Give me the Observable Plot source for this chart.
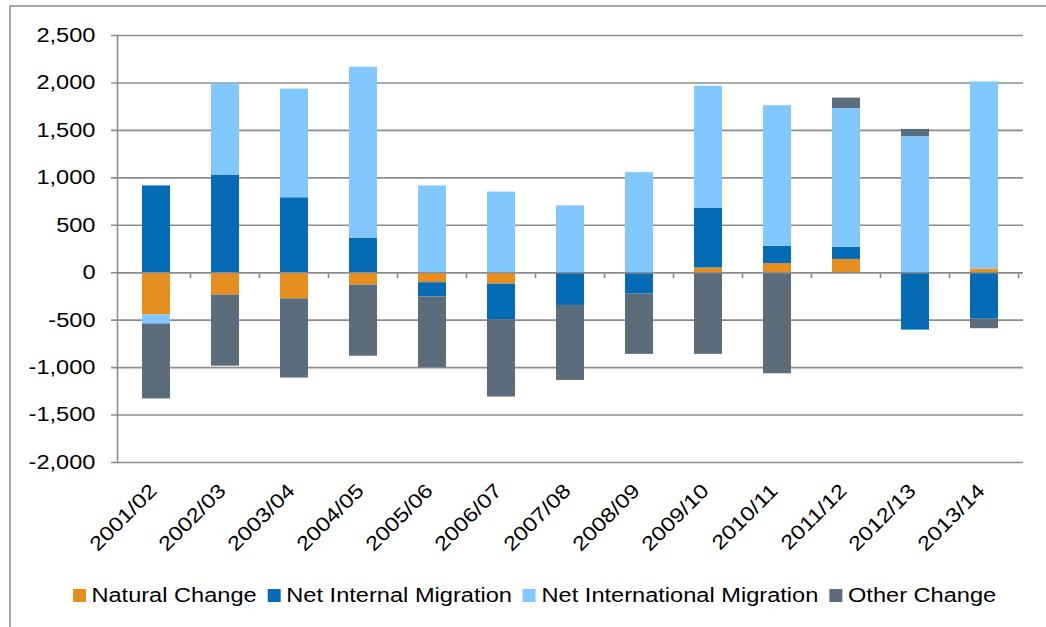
<!DOCTYPE html>
<html>
<head>
<meta charset="utf-8">
<script src="https://cdn.jsdelivr.net/npm/d3@7"></script>
<script src="https://cdn.jsdelivr.net/npm/@observablehq/plot@0.6"></script>
<style>
  html, body { margin: 0; padding: 0; background: #fff; overflow: hidden; width: 1046px; height: 627px; }
  body { position: relative; font-family: "Liberation Sans", Arial, sans-serif; }
  #frame { position: absolute; left: 9px; top: 5px; width: 1100px; height: 700px; border: 2px solid #a8a8a8; box-sizing: border-box; }
  #chart { position: absolute; left: 0; top: 0; }
  #legend { position: absolute; left: 73px; top: 584px; display: flex; align-items: center; font-size: 20px; line-height: 23px; color: #000; white-space: nowrap; transform: scaleX(1.18); transform-origin: 0 0; }
  #legend .item { display: flex; align-items: center; margin-right: 9.5px; }
  #legend .sw { width: 11px; height: 13px; margin-right: 4.6px; }
</style>
</head>
<body>
<div id="frame"></div>
<div id="chart"></div>
<div id="legend"></div>
<script>
const years = ["2001/02","2002/03","2003/04","2004/05","2005/06","2006/07","2007/08","2008/09","2009/10","2010/11","2011/12","2012/13","2013/14"];
const seriesNames = ["Natural Change","Net Internal Migration","Net International Migration","Other Change"];
const seriesColors = ["#E68F1E","#066BB5","#80C8FF","#5B6C7A"];
const naturalChange = [-445, -235, -275, -130, -105, -120, 0, -10, 50, 95, 140, 0, 40];
const netInternal = [915, 1030, 790, 365, -150, -375, -345, -215, 630, 185, 130, -605, -490];
const netInternational = [-95, 960, 1145, 1800, 915, 850, 705, 1055, 1285, 1480, 1460, 1435, 1970];
const otherChange = [-790, -750, -835, -750, -745, -815, -790, -635, -860, -1065, 110, 75, -100];
const yTicks = [-2000, -1500, -1000, -500, 0, 500, 1000, 1500, 2000, 2500];

const seriesValues = [naturalChange, netInternal, netInternational, otherChange];
const data = [];
years.forEach((yr, i) => {
  seriesNames.forEach((s, j) => data.push({year: yr, series: s, value: seriesValues[j][i]}));
});

const gridColor = "#8c8c8c";
const fmt = d => d.toLocaleString("en-US");
const chart = Plot.plot({
  width: 1046,
  height: 560,
  marginTop: 35,
  marginLeft: 117,
  marginRight: 23,
  marginBottom: 98,
  style: {fontFamily: "'Liberation Sans', Arial, sans-serif", fontSize: "20px", color: "#000", background: "transparent", overflow: "visible"},
  x: {domain: years, paddingInner: 0.6, paddingOuter: 0.3, label: null},
  y: {domain: [-2000, 2500], label: null},
  color: {domain: seriesNames, range: seriesColors},
  marks: [
    Plot.ruleY(yTicks, {y: d => d, stroke: gridColor, strokeWidth: 1.6, insetLeft: -6}),
    Plot.barY(data, Plot.stackY({x: "year", y: "value", fill: "series", order: seriesNames})),
    Plot.ruleY([0], {stroke: gridColor, strokeWidth: 1.6}),
    Plot.frame({anchor: "left", stroke: gridColor, strokeWidth: 1.6}),
    Plot.axisY(yTicks, {tickSize: 0, tickPadding: 22, tickFormat: fmt, fill: "#000", fontSize: 20}),
    Plot.axisX({tickSize: 0, tickPadding: 25, tickRotate: -45, fill: "#000", fontSize: 20, dx: -3})
  ]
});
document.getElementById("chart").appendChild(chart);

// widen the glyphs like the reference's text
d3.select(chart).selectAll("text").each(function() {
  const len = this.getComputedTextLength();
  if (len > 0) {
    this.setAttribute("textLength", (len * 1.18).toFixed(2));
    this.setAttribute("lengthAdjust", "spacingAndGlyphs");
  }
});

// tick marks on the zero line at the category boundaries
const xs = chart.scale("x");
const ys = chart.scale("y");
const y0 = ys.apply(0);
const gap = (xs.step - xs.bandwidth) / 2;
const bounds = years.map(yr => xs.apply(yr) + xs.bandwidth + gap);
d3.select(chart).append("g")
  .selectAll("line").data(bounds).join("line")
  .attr("x1", d => d).attr("x2", d => d)
  .attr("y1", y0).attr("y2", y0 + 6)
  .attr("stroke", gridColor).attr("stroke-width", 1.6);

// legend
const legend = d3.select("#legend");
seriesNames.forEach((s, i) => {
  const it = legend.append("div").attr("class", "item");
  it.append("div").attr("class", "sw").style("background", seriesColors[i]);
  it.append("span").text(s);
});
</script>
</body>
</html>
